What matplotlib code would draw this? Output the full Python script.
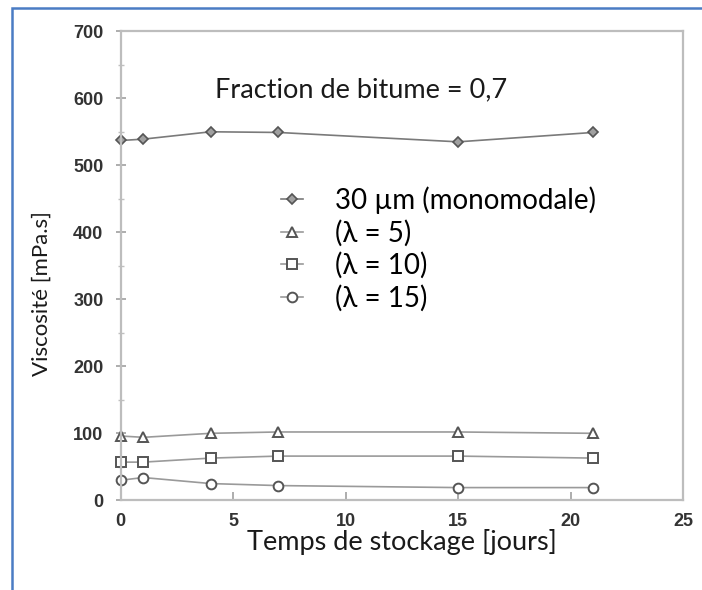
import numpy as np
import matplotlib.pyplot as plt
from matplotlib.patches import Rectangle

# données
jours = [0, 1, 4, 7, 15, 21]
mono_30um = [537, 539, 550, 549, 535, 549]
lambda_5 = [96, 94, 100, 102, 102, 100]
lambda_10 = [57, 57, 63, 66, 66, 63]
lambda_15 = [30, 34, 25, 22, 19, 19]

noms = ["30 µm (monomodale)", "(λ = 5)", "(λ = 10)", "(λ = 15)"]
series = [mono_30um, lambda_5, lambda_10, lambda_15]
marqueurs = ["D", "^", "s", "o"]

police = ["Lato", "DejaVu Sans"]

fig = plt.figure(figsize=(7.02, 5.9), dpi=100)
ax = fig.add_axes([0.172, 0.152, 0.801, 0.795])

for nom, y, m in zip(noms, series, marqueurs):
    if m == "D":
        ax.plot(jours, y, color="#7a7a7a", lw=1.2, marker=m, ms=5,
                mfc="#a0a0a0", mec="#555555", mew=1.2, label=nom, clip_on=False)
    else:
        ax.plot(jours, y, color="#9a9a9a", lw=1.2, marker=m, ms=7,
                mfc="white", mec="#555555", mew=1.4, label=nom, clip_on=False)

ax.set_xlim(0, 25)
ax.set_ylim(0, 700)
ax.set_xticks([0, 5, 10, 15, 20, 25])
ax.set_yticks(np.arange(0, 701, 100))
ax.set_yticks(np.arange(50, 700, 100), minor=True)

for s in ax.spines.values():
    s.set_color("#bdbdbd")
    s.set_linewidth(1.6)

ax.tick_params(axis="y", direction="inout", length=7, width=1.2, color="#a0a0a0",
               labelsize=13, labelcolor="#333333", pad=9)
ax.tick_params(axis="y", which="minor", direction="inout", length=5, width=1, color="#c0c0c0")
ax.tick_params(axis="x", direction="in", length=6, width=1.2, color="#a0a0a0",
               labelsize=13, labelcolor="#333333", pad=9)
for lab in ax.get_xticklabels() + ax.get_yticklabels():
    lab.set_fontweight("bold")
    lab.set_family(["Liberation Sans", "DejaVu Sans"])

ax.set_xlabel("Temps de stockage [jours]", fontsize=19.5, family=police, color="#1a1a1a")
ax.set_ylabel("Viscosité [mPa.s]", fontsize=16, family=police, color="#1a1a1a")
ax.xaxis.set_label_coords(0.5, -0.062)
ax.yaxis.set_label_coords(-0.123, 0.44)

ax.text(4.2, 612, "Fraction de bitume = 0,7", fontsize=19.5, family=police,
        va="center", ha="left", color="#1a1a1a")

leg = ax.legend(loc="upper left", bbox_to_anchor=(0.285, 0.669), frameon=False,
                prop={"family": police, "size": 20}, handlelength=0.8,
                labelspacing=0.2, handletextpad=1.15, borderpad=0, borderaxespad=0)

# cadre bleu de la capture
fig.add_artist(Rectangle((12 / 702, -0.1), 1.2, 1.1 - 8 / 590,
                         transform=fig.transFigure, fill=False,
                         edgecolor="#4a7cc4", lw=1.8))

fig.savefig("out.png", dpi=100)
